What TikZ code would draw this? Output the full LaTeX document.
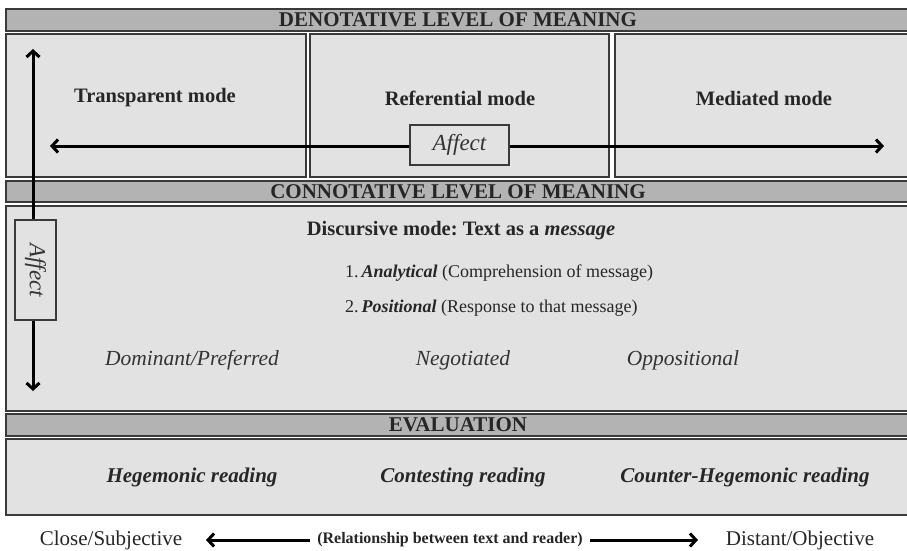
\documentclass[tikz,border=0pt]{standalone}
\usepackage{fontspec}
\setmainfont{Liberation Serif}
\usetikzlibrary{arrows.meta}
\definecolor{barfill}{HTML}{B3B3B3}
\definecolor{panelfill}{HTML}{E2E2E2}
\definecolor{edge}{HTML}{3A3A3A}
\frenchspacing
\begin{document}
\begin{tikzpicture}[x=1pt,y=-1pt,
  bar/.style={draw=edge, fill=barfill, line width=1.5pt},
  panel/.style={draw=edge, fill=panelfill, line width=1.5pt},
  hdr/.style={font=\bfseries\fontsize{21}{24}\selectfont, text=black!85, inner sep=0pt},
  mode/.style={font=\bfseries\fontsize{20.5}{24}\selectfont, text=black!85},
  body/.style={font=\fontsize{18}{22}\selectfont, text=black!85, anchor=west, inner sep=0pt},
  reading/.style={font=\itshape\fontsize{21.5}{24}\selectfont, text=black!80},
  evalt/.style={font=\bfseries\itshape\fontsize{21}{24}\selectfont, text=black!85},
  affbox/.style={draw=edge, fill=panelfill, line width=1.2pt, inner sep=0pt,
    font=\itshape\fontsize{23}{26}\selectfont, text=black!80},
  arr/.style={line width=3pt, -{Straight Barb[length=6pt,width=13pt]}},
  endtext/.style={font=\fontsize{21}{24}\selectfont, text=black!85}
]
\useasboundingbox (0,0) rectangle (907,551);
\fill[white] (0,0) rectangle (907,551);
\begin{scope}
\clip (0,0) rectangle (907,551);
% denotative level
\draw[bar] (6,9) rectangle (915,31);
\draw[panel] (6,34) rectangle (306,177);
\draw[panel] (310,34) rectangle (609,177);
\draw[panel] (615,34) rectangle (915,177);
% connotative level
\draw[bar] (6,181) rectangle (915,202);
\draw[panel] (6,206) rectangle (915,411);
% evaluation
\draw[bar] (6,414) rectangle (915,436);
\draw[panel] (6,439) rectangle (915,515);
\end{scope}

% headings
\node[hdr] (hden) at (458,20) {DENOTATIVE LEVEL OF MEANING};
\node[hdr] (hcon) at (458,191.5) {CONNOTATIVE LEVEL OF MEANING};
\node[hdr] (heva) at (458,425) {EVALUATION};

% modes of the denotative level
\node[mode] (trans) at (155,98) {Transparent mode};
\node[mode] (refer) at (460,98) {Referential mode};
\node[mode] (medi) at (764,98) {Mediated mode};

% horizontal affect axis
\node[affbox, minimum width=99, minimum height=40] (haff) at (459.5,145) {Affect};
\coordinate (hl) at (50,146);
\coordinate (hr) at (884,146);
\draw[arr] (haff.west |- hl) -- (hl);
\draw[arr] (haff.east |- hr) -- (hr);

% vertical affect axis
\node[affbox, minimum width=100, minimum height=41, rotate=-90] (vaff) at (35.5,270) {Affect};
\coordinate (vt) at (33,49);
\coordinate (vb) at (33,391);
\draw[arr] (vaff.west -| vt) -- (vt);
\draw[arr] (vaff.east -| vb) -- (vb);

% connotative content
\node[mode] (disc) at (461,231) {Discursive mode: Text as a \textit{message}};
\node[body] (ana) at (345,273) {1.\,\textbf{\textit{Analytical}} (Comprehension of message)};
\node[body] (pos) at (345,308) {2.\,\textbf{\textit{Positional}} (Response to that message)};
\node[reading] (dom) at (192,360) {Dominant/Preferred};
\node[reading] (neg) at (463,360) {Negotiated};
\node[reading] (opp) at (683,360) {Oppositional};

% evaluation content
\node[evalt] (heg) at (192,477) {Hegemonic reading};
\node[evalt] (con) at (463,477) {Contesting reading};
\node[evalt] (cnt) at (745,477) {Counter-Hegemonic reading};

% relationship between text and reader
\node[endtext] (close) at (111,540) {Close/Subjective};
\node[endtext] (dist) at (800,540) {Distant/Objective};
\node[font=\bfseries\fontsize{16}{18}\selectfont, text=black!85, inner xsep=7pt] (rel) at (450,540) {(Relationship between text and reader)};
\coordinate (cl) at (206,540);
\coordinate (cr) at (698,540);
\draw[arr] (rel.west) -- (cl);
\draw[arr] (rel.east) -- (cr);
\end{tikzpicture}
\end{document}
